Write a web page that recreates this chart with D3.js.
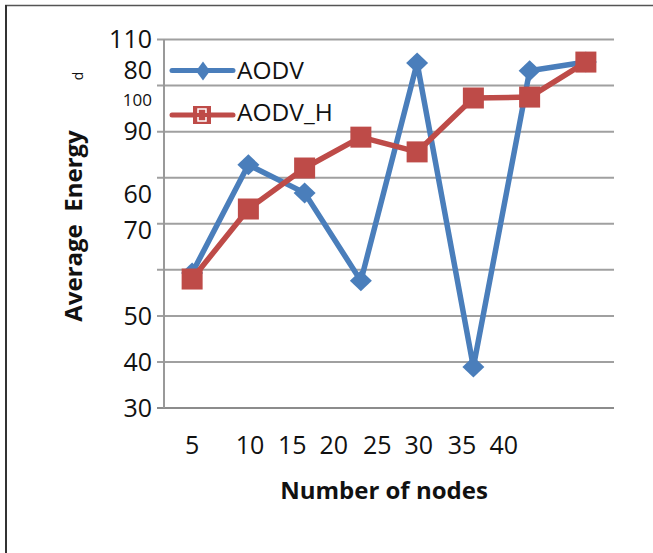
<!DOCTYPE html>
<html><head><meta charset="utf-8">
<script src="https://cdn.jsdelivr.net/npm/d3@7"></script>
<style>body{margin:0;background:#fff}svg{display:block}</style>
</head><body>
<svg id="c" width="653" height="553"></svg>
<script>
// ---- data ----
const categories = ["5","10","15","20","25","30","35","40"];
const seriesNames = ["AODV","AODV_H"];
const aodv   = [59.3, 82.8, 76.7, 57.6, 104.9, 38.9, 103.2, 105.1];
const aodvH  = [58.0, 73.2, 82.1, 88.8, 85.6, 97.3, 97.5, 105.1];
// y tick labels as printed in the source, and where they sit (in value units)
const yTickLabels = ["110","80","100","90","60","70","50","40","30"];
const yTickAt     = [110, 103.3, 96.9, 90, 76.5, 68.5, 50, 40, 30];
// x tick labels as printed, and where they sit (in category-index units)
const xTickLabels = ["5","10","15","20","25","30","35","40"];
const xTickAt     = [0, 1.03, 1.78, 2.52, 3.29, 4.03, 4.8, 5.54];
const yGrid = [30,40,50,60,70,80,90,100,110];

const svg = d3.select("#c");
const FONT = "'Open Sans', 'Liberation Sans', sans-serif";
const L = 164, R = 614, T = 39.5, B = 408;
const blue = "#4A7EBB", red = "#BE4B48";

// frame
svg.append("line").attr("x1",5).attr("x2",653).attr("y1",5.5).attr("y2",5.5)
  .attr("stroke","#555").attr("stroke-width",1.5);
svg.append("line").attr("x1",6).attr("x2",6).attr("y1",5).attr("y2",553)
  .attr("stroke","#333").attr("stroke-width",2);

const x = d3.scalePoint().domain(categories).range([L, R]).padding(0.5);
const xi = d3.scaleLinear().domain([0, categories.length-1]).range([x(categories[0]), x(categories[categories.length-1])]);
const y = d3.scaleLinear().domain([30,110]).range([B, T]);

// gridlines
svg.append("g").selectAll("line").data(yGrid).join("line")
  .attr("x1", L-7).attr("x2", R).attr("y1", d=>y(d)).attr("y2", d=>y(d))
  .attr("stroke", d=> d===30 ? "#8c8c8c" : "#a0a0a0").attr("stroke-width",2);
svg.append("line").attr("x1",L).attr("x2",L).attr("y1",T).attr("y2",B)
  .attr("stroke","#999").attr("stroke-width",2);

// y tick labels
svg.append("g").selectAll("text").data(yTickLabels).join("text")
  .attr("x",152).attr("y",(d,i)=>y(yTickAt[i]))
  .attr("dy","0.35em").attr("text-anchor","end")
  .attr("font-family",FONT).attr("font-size",(d,i)=> i===2 ? 17 : 25)
  .attr("fill","#111").text(d=>d);

// x tick labels
svg.append("g").selectAll("text").data(xTickLabels).join("text")
  .attr("x",(d,i)=>xi(xTickAt[i])).attr("y",445)
  .attr("dy","0.35em").attr("text-anchor","middle")
  .attr("font-family",FONT).attr("font-size",25)
  .attr("fill","#111").text(d=>d);

// axis titles
svg.append("text").attr("transform","translate(82,226) rotate(-90)")
  .attr("text-anchor","middle").attr("font-family",FONT).attr("font-weight","bold")
  .attr("font-size",24).attr("fill","#111").attr("xml:space","preserve")
  .text("Average  Energy");
svg.append("text").attr("transform","translate(83,76) rotate(-90)")
  .attr("text-anchor","middle").attr("font-family",FONT)
  .attr("font-size",14).attr("fill","#111").text("d");
svg.append("text").attr("x",384).attr("y",499)
  .attr("text-anchor","middle").attr("font-family",FONT).attr("font-weight","bold")
  .attr("font-size",24).attr("fill","#111").text("Number of nodes");

// series
const line = d3.line().x((d,i)=>x(categories[i])).y(d=>y(d));
const diamond = (cx,cy,w,h)=>`M${cx},${cy-h}L${cx+w},${cy}L${cx},${cy+h}L${cx-w},${cy}Z`;

svg.append("path").datum(aodv).attr("d",line).attr("fill","none")
  .attr("stroke",blue).attr("stroke-width",5.5).attr("stroke-linejoin","round");
svg.append("g").selectAll("path").data(aodv).join("path")
  .attr("d",(d,i)=>diamond(x(categories[i]), y(d), 11, 10.5)).attr("fill",blue);

svg.append("path").datum(aodvH).attr("d",line).attr("fill","none")
  .attr("stroke",red).attr("stroke-width",5.5).attr("stroke-linejoin","round");
svg.append("g").selectAll("rect").data(aodvH).join("rect")
  .attr("x",(d,i)=>x(categories[i])-10.5).attr("y",d=>y(d)-10.5)
  .attr("width",21).attr("height",21).attr("fill",red);

// legend
const lg = svg.append("g");
lg.append("line").attr("x1",172).attr("x2",233).attr("y1",70.5).attr("y2",70.5)
  .attr("stroke",blue).attr("stroke-width",5).attr("stroke-linecap","round");
lg.append("path").attr("d",diamond(203,71,7,9.5)).attr("fill",blue);
lg.append("text").attr("x",237).attr("y",70).attr("dy","0.35em")
  .attr("font-family",FONT).attr("font-size",24.5).attr("fill","#111").text(seriesNames[0]);

lg.append("line").attr("x1",172).attr("x2",233).attr("y1",115).attr("y2",115)
  .attr("stroke",red).attr("stroke-width",5).attr("stroke-linecap","round");
lg.append("rect").attr("x",193).attr("y",106).attr("width",18).attr("height",18).attr("fill",red);
lg.append("rect").attr("x",198).attr("y",109).attr("width",8).attr("height",12)
  .attr("fill","none").attr("stroke","#fff").attr("stroke-width",1.5);
lg.append("line").attr("x1",197).attr("x2",207).attr("y1",115).attr("y2",115)
  .attr("stroke",red).attr("stroke-width",4);
lg.append("text").attr("x",237).attr("y",112).attr("dy","0.35em")
  .attr("font-family",FONT).attr("font-size",24.5).attr("fill","#111").text(seriesNames[1]);
</script>
</body></html>
